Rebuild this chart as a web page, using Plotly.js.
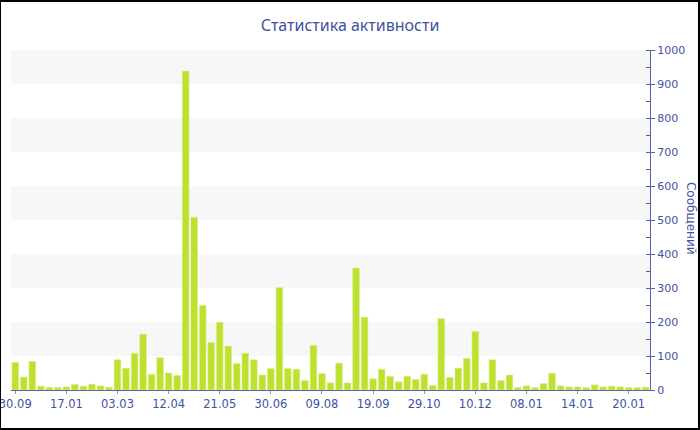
<!DOCTYPE html>
<html>
<head>
<meta charset="utf-8">
<script src="https://cdn.plot.ly/plotly-3.0.1.min.js"></script>
<style>
  html, body { margin: 0; padding: 0; background: #fff; }
  #wrap { position: relative; width: 700px; height: 430px; overflow: hidden; }
  #chart { width: 700px; height: 430px; }
  #frame { position: absolute; left: 0; top: 0; width: 700px; height: 430px; box-sizing: border-box;
           border-style: solid; border-color: #000; border-width: 2px 2px 2px 1px; pointer-events: none; }
</style>
</head>
<body>
<div id="wrap"><div id="chart"></div><div id="frame"></div></div>
<script>
// Messages per period (bars, left to right)
const messages = [81, 38, 84, 11, 8, 7, 9, 16, 11, 17, 12, 8,
  89, 64, 108, 164, 46, 95, 50, 43, 938, 508, 249, 140,
  199, 129, 78, 108, 89, 44, 63, 301, 63, 61, 28, 131,
  48, 21, 79, 21, 359, 214, 33, 61, 40, 24, 40, 31,
  46, 13, 210, 37, 64, 93, 172, 21, 89, 28, 44, 7,
  12, 7, 19, 49, 12, 9, 9, 7, 15, 9, 11, 9,
  7, 7, 8];
// Tick labels, shown on every 6th bar
const tickLabels = ['30.09', '17.01', '03.03', '12.04', '21.05', '30.06', '09.08',
  '19.09', '29.10', '10.12', '08.01', '14.01', '20.01'];
const tickStep = 6;
const titleText = 'Статистика активности';
const yTitleText = 'Сообщений';
const bandStarts = [100, 300, 500, 700, 900];
const bandSize = 100;

const xIdx = messages.map((_, i) => i);
const tickVals = tickLabels.map((_, i) => i * tickStep);

const axisColor = '#5264aa';
const textColor = '#3f52a0';
const font = 'DejaVu Sans, sans-serif';

const shapes = bandStarts.map(v => ({
  type: 'rect', xref: 'paper', yref: 'y', x0: 0, x1: 1, y0: v, y1: v + bandSize,
  fillcolor: '#f7f7f7', line: { width: 0 }, layer: 'below'
}));

const trace = {
  type: 'bar', x: xIdx, y: messages,
  marker: { color: '#bde12e', line: { color: '#d9ef86', width: 0.6 } },
  hoverinfo: 'y'
};

const layout = {
  width: 700, height: 430,
  margin: { l: 11, r: 50, t: 50, b: 40 },
  paper_bgcolor: '#fff', plot_bgcolor: '#fff',
  showlegend: false,
  bargap: 0.22,
  title: { text: titleText, font: { family: 'Noto Sans, sans-serif', size: 16, color: textColor },
           x: 0.5, xanchor: 'center', y: 0.942, yanchor: 'middle' },
  xaxis: {
    range: [-0.5, messages.length - 0.5],
    tickmode: 'array', tickvals: tickVals, ticktext: tickLabels,
    ticklabeloverflow: 'allow',
    showgrid: false, zeroline: false,
    showline: true, linecolor: axisColor, linewidth: 1,
    ticks: 'outside', ticklen: 3, tickcolor: '#8a93b8',
    tickfont: { family: font, size: 11.5, color: textColor },
    fixedrange: true
  },
  yaxis: {
    side: 'right', range: [0, 1000],
    tickmode: 'linear', tick0: 0, dtick: 100,
    showgrid: false, zeroline: false,
    showline: true, linecolor: axisColor, linewidth: 1,
    ticks: 'outside', ticklen: 4, tickcolor: axisColor,
    minor: { tickmode: 'linear', dtick: 50, ticks: 'inside', ticklen: 4, tickcolor: axisColor, showgrid: false },
    tickfont: { family: font, size: 11, color: textColor },
    fixedrange: true
  },
  shapes: shapes,
  annotations: [{
    text: yTitleText, xref: 'paper', yref: 'paper', x: (691 - 11) / 639, y: 0.506,
    xanchor: 'center', yanchor: 'middle', showarrow: false, textangle: 90,
    font: { family: font, size: 12, color: textColor }
  }]
};

Plotly.newPlot('chart', [trace], layout, { displayModeBar: false, staticPlot: true });
</script>
</body>
</html>
